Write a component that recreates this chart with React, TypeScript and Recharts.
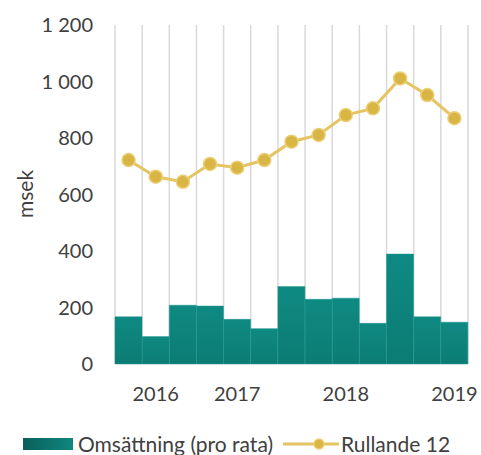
import React from 'react';
import { ComposedChart, Bar, Line, XAxis, YAxis, CartesianGrid } from 'recharts';

const periods = ['P1', 'P2', 'P3', 'P4', 'P5', 'P6', 'P7', 'P8', 'P9', 'P10', 'P11', 'P12', 'P13'];
const tickLabels = ['', '2016', '', '', '2017', '', '', '', '2018', '', '', '', '2019'];
const omsattning = [167, 97, 208, 205, 158, 125, 274, 229, 233, 144, 389, 167, 148];
const rullande12 = [722, 663, 645, 708, 695, 722, 787, 811, 881, 905, 1011, 952, 870];
const yTicks = [0, 200, 400, 600, 800, 1000, 1200];

const data = periods.map((p, i) => ({
  period: p,
  omsattning: omsattning[i],
  rullande: rullande12[i],
}));

const FONT = 'Lato, "Open Sans", sans-serif';
const TEXT = '#404040';
const GOLD = '#E5C462';

const fmt = (v: number) => {
  const s = String(v);
  return s.length > 3 ? s.slice(0, s.length - 3) + ' ' + s.slice(-3) : s;
};

const gridGen = ({ offset }: any) => {
  const n = periods.length;
  const step = offset.width / n;
  const arr: number[] = [];
  for (let i = 0; i <= n; i++) arr.push(offset.left + i * step);
  return arr;
};

const YLabel = () => (
  <text
    x={24}
    y={194}
    transform="rotate(-90, 24, 194)"
    textAnchor="middle"
    dominantBaseline="central"
    fontFamily={FONT}
    fontSize={21}
    fill={TEXT}
  >
    msek
  </text>
);

export default function App() {
  return (
    <div style={{ position: 'absolute', left: 0, top: 0, width: 481, height: 455, background: '#fff' }}>
      <ComposedChart
        width={481}
        height={455}
        data={data}
        margin={{ top: 25, right: 13, left: 0, bottom: 51 }}
        barCategoryGap={0}
      >
        <defs>
          <linearGradient id="barGrad" x1="0" y1="0" x2="0" y2="1">
            <stop offset="0%" stopColor="#0E8A82" />
            <stop offset="100%" stopColor="#0C7C74" />
          </linearGradient>
        </defs>
        <CartesianGrid
          horizontal={false}
          vertical
          stroke="#D9D9D9"
          strokeWidth={1.5}
          verticalCoordinatesGenerator={gridGen}
        />
        <XAxis
          dataKey="period"
          axisLine={false}
          tickLine={false}
          tickSize={0}
          tickMargin={23}
          height={40}
          interval={0}
          tickFormatter={(v: string, i: number) => tickLabels[i]}
          tick={{ fontFamily: FONT, fontSize: 20, fill: TEXT }}
        />
        <YAxis
          width={115}
          domain={[0, 1200]}
          ticks={yTicks}
          axisLine={false}
          tickLine={false}
          tickSize={0}
          tickMargin={22}
          tickFormatter={fmt}
          tick={{ fontFamily: FONT, fontSize: 20, fill: TEXT }}
          label={<YLabel />}
        />
        <Bar dataKey="omsattning" fill="url(#barGrad)" stroke="#1A968E" strokeWidth={0.5} isAnimationActive={false} />
        <Line
          dataKey="rullande"
          stroke={GOLD}
          strokeWidth={3}
          dot={{ r: 6.5, fill: '#D9B544', stroke: '#EBCF78', strokeWidth: 1.5 }}
          isAnimationActive={false}
        />
      </ComposedChart>
      <div
        style={{
          position: 'absolute',
          left: 23,
          top: 438,
          width: 50,
          height: 12,
          background: 'linear-gradient(to right, #0A605B, #0F877F)',
        }}
      />
      <div
        style={{
          position: 'absolute',
          left: 78,
          top: 431,
          lineHeight: '25px',
          fontFamily: FONT,
          fontSize: 21,
          color: TEXT,
          whiteSpace: 'nowrap',
        }}
      >
        Omsättning (pro rata)
      </div>
      <svg width={56} height={14} style={{ position: 'absolute', left: 283, top: 437 }}>
        <line x1={0} y1={7} x2={56} y2={7} stroke={GOLD} strokeWidth={3} />
        <circle cx={36} cy={7} r={5} fill="#D9B544" stroke="#EBCF78" strokeWidth={1.5} />
      </svg>
      <div
        style={{
          position: 'absolute',
          left: 341,
          top: 431,
          lineHeight: '25px',
          fontFamily: FONT,
          fontSize: 21,
          color: TEXT,
          whiteSpace: 'nowrap',
        }}
      >
        Rullande 12
      </div>
    </div>
  );
}
